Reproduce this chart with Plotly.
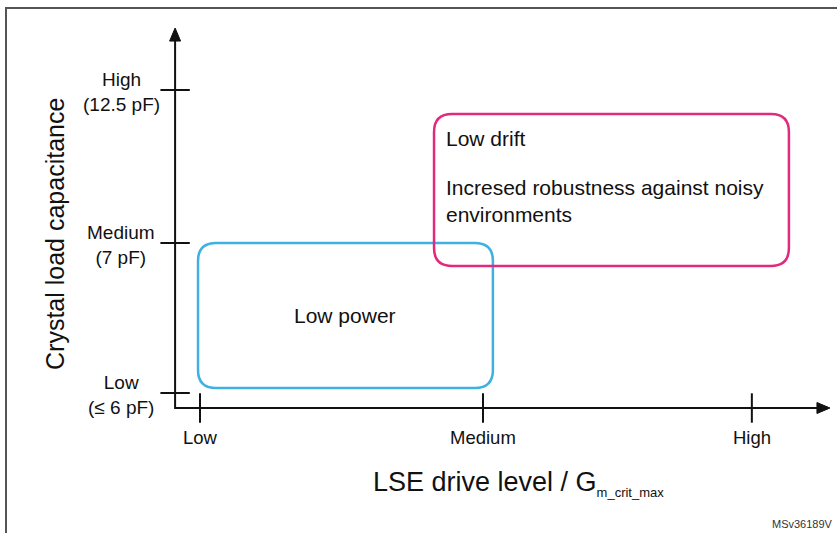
import plotly.graph_objects as go

# ---------------- data ----------------
x_levels = ["Low", "Medium", "High"]
x_level_vals = [1.0, 2.0, 2.95]

y_levels = ["Low", "Medium", "High"]
y_level_notes = ["(≤ 6 pF)", "(7 pF)", "(12.5 pF)"]
y_level_vals = [1.0, 2.0, 3.02]

region_names = ["Low power", "Low drift"]
region_x0 = [0.993, 1.827]
region_x1 = [2.035, 3.081]
region_y0 = [1.033, 1.847]
region_y1 = [2.0, 2.86]
region_colors = ["#3fb0e2", "#e2297f"]

drift_detail = "Incresed robustness against noisy<br>environments"

axis_origin_x, axis_origin_y = 0.912, 0.9
axis_end_x, axis_end_y = 3.226, 3.433

x_title = "LSE drive level / G<sub><span style='font-size:13px'>m_crit_max</span></sub>"
y_title = "Crystal load capacitance"
figure_id = "MSv36189V"

# ---------------- layout constants ----------------
W, H = 837, 533
PX_X, PX_Y = 283.0, 150.0          # pixels per data unit
x_range = [1 - 200 / PX_X, 1 + (W - 200) / PX_X]
y_range = [1 - (H - 393) / PX_Y, 1 + 393 / PX_Y]
FONT = "Liberation Sans, Arial, sans-serif"
TXT = "#111111"
AX = "#111111"

fig = go.Figure()

# tick marks as marker traces
fig.add_trace(go.Scatter(
    x=x_level_vals, y=[axis_origin_y] * len(x_level_vals), mode="markers",
    marker=dict(symbol="line-ns-open", size=21, color=AX, line=dict(color=AX, width=2)),
    hoverinfo="skip", showlegend=False))
fig.add_trace(go.Scatter(
    x=[axis_origin_x] * len(y_level_vals), y=y_level_vals, mode="markers",
    marker=dict(symbol="line-ew-open", size=21, color=AX, line=dict(color=AX, width=2)),
    hoverinfo="skip", showlegend=False))

shapes = []
# axis lines
shapes.append(dict(type="path", xref="x", yref="y",
                   path=f"M {axis_origin_x},{axis_end_y - 0.05} L {axis_origin_x},{axis_origin_y} L {axis_end_x - 0.03},{axis_origin_y}",
                   line=dict(color=AX, width=2)))
# arrowheads (pixel-sized, anchored at axis tips)
shapes.append(dict(type="path", xref="x", yref="y", xsizemode="pixel", ysizemode="pixel",
                   xanchor=axis_origin_x, yanchor=axis_end_y,
                   path="M -5.5,-13 L 5.5,-13 L 0,0 Z",
                   line=dict(color=AX, width=1), fillcolor=AX))
shapes.append(dict(type="path", xref="x", yref="y", xsizemode="pixel", ysizemode="pixel",
                   xanchor=axis_end_x, yanchor=axis_origin_y,
                   path="M -13,-5.5 L -13,5.5 L 0,0 Z",
                   line=dict(color=AX, width=1), fillcolor=AX))

# rounded region boxes
R = 18
rx, ry = R / PX_X, R / PX_Y
for x0, x1, y0, y1, c in zip(region_x0, region_x1, region_y0, region_y1, region_colors):
    p = (f"M {x0+rx},{y0} L {x1-rx},{y0} Q {x1},{y0} {x1},{y0+ry} "
         f"L {x1},{y1-ry} Q {x1},{y1} {x1-rx},{y1} L {x0+rx},{y1} "
         f"Q {x0},{y1} {x0},{y1-ry} L {x0},{y0+ry} Q {x0},{y0} {x0+rx},{y0} Z")
    shapes.append(dict(type="path", xref="x", yref="y", path=p,
                       line=dict(color=c, width=2.5)))

# frame
shapes.append(dict(type="line", xref="paper", yref="paper",
                   x0=5 / W, x1=1, y0=1 - 8 / H, y1=1 - 8 / H,
                   line=dict(color="#555", width=2)))
shapes.append(dict(type="line", xref="paper", yref="paper",
                   x0=6 / W, x1=6 / W, y0=1 - 8 / H, y1=0,
                   line=dict(color="#555", width=2)))

ann = []
# x tick labels
for v, t in zip(x_level_vals, x_levels):
    ann.append(dict(x=v, y=axis_origin_y, xref="x", yref="y", text=t, showarrow=False,
                    yshift=-29, xanchor="center", yanchor="middle",
                    font=dict(family=FONT, size=18.5, color=TXT)))
# y tick labels
for v, t, n in zip(y_level_vals, y_levels, y_level_notes):
    ann.append(dict(x=axis_origin_x, y=v, xref="x", yref="y", text=f"{t}<br>{n}",
                    showarrow=False, xshift=-54, yshift=-2, align="center",
                    xanchor="center", yanchor="middle",
                    font=dict(family=FONT, size=19, color=TXT)))

# region texts
ann.append(dict(x=(region_x0[0] + region_x1[0]) / 2, y=(region_y0[0] + region_y1[0]) / 2,
                xref="x", yref="y", text=region_names[0], showarrow=False,
                xanchor="center", yanchor="middle",
                font=dict(family=FONT, size=21, color=TXT)))
ann.append(dict(x=region_x0[1], y=region_y1[1], xref="x", yref="y", text=region_names[1],
                showarrow=False, xanchor="left", yanchor="middle", xshift=10, yshift=-24,
                font=dict(family=FONT, size=21, color=TXT)))
ann.append(dict(x=region_x0[1], y=region_y1[1], xref="x", yref="y", text=drift_detail,
                showarrow=False, xanchor="left", yanchor="middle", xshift=10, yshift=-87,
                align="left", font=dict(family=FONT, size=21, color=TXT)))

# axis titles
ann.append(dict(x=55 / W, y=1 - 234 / H, xref="paper", yref="paper", text=y_title,
                textangle=-90, showarrow=False, xanchor="center", yanchor="middle",
                font=dict(family=FONT, size=25, color=TXT)))
ann.append(dict(x=518 / W, y=1 - 483 / H, xref="paper", yref="paper", text=x_title,
                showarrow=False, xanchor="center", yanchor="middle",
                font=dict(family=FONT, size=27, color=TXT)))
ann.append(dict(x=835 / W, y=1 - 524 / H, xref="paper", yref="paper", text=figure_id,
                showarrow=False, xanchor="right", yanchor="middle",
                font=dict(family=FONT, size=11, color="#333")))

fig.update_layout(
    width=W, height=H, margin=dict(l=0, r=0, t=0, b=0),
    paper_bgcolor="white", plot_bgcolor="white",
    xaxis=dict(range=x_range, visible=False, fixedrange=True),
    yaxis=dict(range=y_range, visible=False, fixedrange=True),
    shapes=shapes, annotations=ann, showlegend=False,
)

fig.write_html(
    "out.html",
    config={"displayModeBar": False, "staticPlot": True},
    post_script="document.body.style.margin='0';document.body.style.overflow='hidden';",
)
